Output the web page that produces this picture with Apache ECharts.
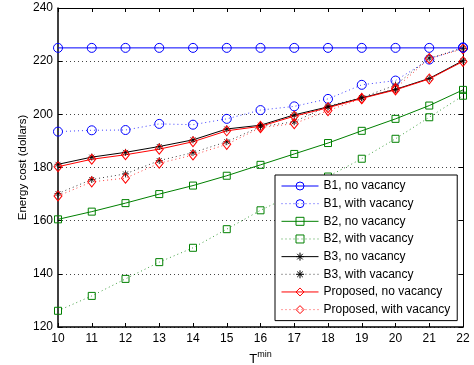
<!DOCTYPE html>
<html>
<head>
<meta charset="utf-8">
<script src="https://cdn.jsdelivr.net/npm/echarts@6/dist/echarts.min.js"></script>
<style>html,body{margin:0;padding:0;background:#fff;}#c{width:474px;height:365px;}</style>
</head>
<body>
<div id="c"></div>
<script>
var xValues = [10, 11, 12, 13, 14, 15, 16, 17, 18, 19, 20, 21, 22];
var xTicks = ['10','11','12','13','14','15','16','17','18','19','20','21','22'];
var yTicks = ['120','140','160','180','200','220','240'];
var b1No = [225, 225, 225, 225, 225, 225, 225, 225, 225, 225, 225, 225, 225];
var b1Vac = [193.5, 194.0, 194.1, 196.4, 196.1, 198.3, 201.6, 203.0, 205.8, 211.1, 212.7, 220.6, 225.2];
var b2No = [160.5, 163.4, 166.6, 170.0, 173.2, 176.9, 181.0, 185.1, 189.2, 193.8, 198.3, 203.3, 209.2];
var b2Vac = [126.1, 131.7, 138.1, 144.4, 149.8, 156.8, 163.9, 170.0, 176.6, 183.3, 190.8, 198.9, 207.0];
var b3No = [181.2, 183.9, 185.7, 187.9, 190.4, 194.5, 195.9, 199.8, 202.8, 206.2, 209.4, 213.5, 220.2];
var b3Vac = [170.2, 175.5, 177.6, 182.6, 185.6, 189.7, 195.4, 197.2, 203.1, 206.3, 211.0, 221.2, 224.8];
var propNo = [180.3, 183.1, 184.8, 186.9, 189.7, 193.8, 195.5, 199.3, 202.5, 206.0, 209.2, 213.3, 219.9];
var propVac = [169.3, 174.6, 176.0, 181.6, 184.7, 188.7, 195.0, 196.5, 201.4, 205.9, 209.8, 221.0, 224.6];
var names = ['B1, no vacancy','B1, with vacancy','B2, no vacancy','B2, with vacancy','B3, no vacancy','B3, with vacancy','Proposed, no vacancy','Proposed, with vacancy'];

var FONT = '"Liberation Sans", Arial, sans-serif';
var BLUE = '#0000ff', GREEN = '#008000', BLACK = '#000000', RED = '#ff0000';
var STAR = 'path://M5,0L5,10M0,5L10,5M1.5,1.5L8.5,8.5M8.5,1.5L1.5,8.5';

function pairs(arr) { return xValues.map(function (x, i) { return [x, arr[i]]; }); }

function mk(name, arr, color, dotted, symbol, size) {
  var isStar = symbol === STAR;
  return {
    name: name, type: 'line', data: pairs(arr),
    symbol: symbol, symbolSize: size, showSymbol: true,
    lineStyle: { color: color, width: 1, type: dotted ? [1, 3] : 'solid', opacity: dotted ? 0.75 : 1 },
    itemStyle: { color: isStar ? color : 'rgba(0,0,0,0)', borderColor: color, borderWidth: isStar ? 0.8 : 1 },
    emphasis: { disabled: true },
    animation: false,
    z: dotted ? 2 : 3
  };
}

var chart = echarts.init(document.getElementById('c'), null, { renderer: 'canvas' });
var tickLabelStyle = { fontFamily: FONT, fontSize: 12, color: '#000' };
chart.setOption({
  backgroundColor: '#fff',
  animation: false,
  grid: { left: 58, right: 11, top: 8, bottom: 38, outerBoundsMode: 'none', containLabel: false },
  legend: {
    orient: 'vertical', left: 275, top: 175,
    data: names,
    backgroundColor: '#fff', borderColor: '#000', borderWidth: 1,
    padding: [4, 7, 4, 6],
    itemWidth: 37, itemHeight: 10, itemGap: 3.66,
    lineStyle: { width: 1 },
    itemStyle: { borderWidth: 1 },
    textStyle: { fontFamily: FONT, fontSize: 12, color: '#000', lineHeight: 14 },
    selectedMode: false
  },
  xAxis: [{
    type: 'value', min: 10, max: 22, interval: 1,
    name: '{t|T}{s|min}', nameLocation: 'middle', nameGap: 23, nameMoveOverlap: false,
    nameTextStyle: { rich: {
      t: { fontFamily: FONT, fontSize: 13, color: '#000', verticalAlign: 'bottom' },
      s: { fontFamily: FONT, fontSize: 9, color: '#000', verticalAlign: 'bottom', padding: [0, 0, 7, 0] }
    } },
    axisLine: { show: true, onZero: false, lineStyle: { color: '#000', width: 1.5 } },
    axisTick: { show: true, inside: true, length: 4, lineStyle: { color: '#000' } },
    axisLabel: Object.assign({ margin: 6, formatter: function (v) { return xTicks[xValues.indexOf(v)] || ''; } }, tickLabelStyle),
    splitLine: { show: false }
  }, {
    type: 'value', min: 10, max: 22, interval: 1, position: 'top',
    axisLine: { show: true, onZero: false, lineStyle: { color: '#000', width: 1 } },
    axisTick: { show: true, inside: true, length: 4, lineStyle: { color: '#000' } },
    axisLabel: { show: false }, splitLine: { show: false }
  }],
  yAxis: [{
    type: 'value', min: 120, max: 240, interval: 20,
    name: 'Energy cost (dollars)', nameLocation: 'middle', nameGap: 29, nameMoveOverlap: false,
    nameTextStyle: { fontFamily: FONT, fontSize: 11.5, color: '#000' },
    axisLine: { show: true, onZero: false, lineStyle: { color: '#000', width: 1.5 } },
    axisTick: { show: true, inside: true, length: 4, lineStyle: { color: '#000' } },
    axisLabel: Object.assign({ margin: 5, formatter: function (v) { var i = (v - 120) / 20; return yTicks[i] || ''; } }, tickLabelStyle),
    splitLine: { show: true, lineStyle: { color: '#444', width: 1, type: [1, 3] } }
  }, {
    type: 'value', min: 120, max: 240, interval: 20, position: 'right',
    axisLine: { show: true, onZero: false, lineStyle: { color: '#000', width: 1 } },
    axisTick: { show: true, inside: true, length: 4, lineStyle: { color: '#000' } },
    axisLabel: { show: false }, splitLine: { show: false }
  }],
  series: [
    mk(names[0], b1No, BLUE, false, 'circle', 9),
    mk(names[1], b1Vac, BLUE, true, 'circle', 9),
    mk(names[2], b2No, GREEN, false, 'rect', 7),
    mk(names[3], b2Vac, GREEN, true, 'rect', 7),
    mk(names[4], b3No, BLACK, false, STAR, 7),
    mk(names[5], b3Vac, BLACK, true, STAR, 7),
    mk(names[6], propNo, RED, false, 'diamond', [8, 10]),
    mk(names[7], propVac, RED, true, 'diamond', [8, 10])
  ]
});
</script>
</body>
</html>
